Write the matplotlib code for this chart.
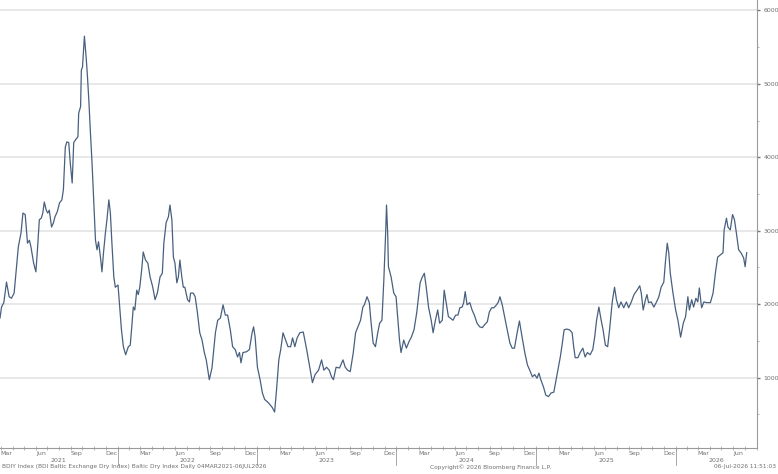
import pandas as pd
import matplotlib
matplotlib.use("Agg")
import matplotlib.pyplot as plt
import matplotlib.dates as mdates
from matplotlib.ticker import MultipleLocator
import matplotlib.transforms as mtransforms

# Baltic Dry Index (roughly weekly points)
dates_2021 = ["2021-02-27", "2021-03-03", "2021-03-09", "2021-03-16", "2021-03-23", "2021-03-29",
              "2021-04-05", "2021-04-12", "2021-04-16", "2021-04-23", "2021-04-28",
              "2021-05-04", "2021-05-10", "2021-05-15", "2021-05-19", "2021-05-26",
              "2021-06-01", "2021-06-05", "2021-06-10", "2021-06-15", "2021-06-19", "2021-06-23", "2021-06-28",
              "2021-07-02", "2021-07-06", "2021-07-12", "2021-07-17", "2021-07-21", "2021-07-27",
              "2021-08-02", "2021-08-08", "2021-08-12", "2021-08-17", "2021-08-21", "2021-08-26", "2021-08-30",
              "2021-09-04", "2021-09-08", "2021-09-13", "2021-09-19", "2021-09-21", "2021-09-26", "2021-09-28",
              "2021-10-01", "2021-10-06", "2021-10-11", "2021-10-14", "2021-10-18", "2021-10-21", "2021-10-26", "2021-10-30",
              "2021-11-04", "2021-11-08", "2021-11-12", "2021-11-17", "2021-11-21", "2021-11-25", "2021-11-30",
              "2021-12-04", "2021-12-09", "2021-12-13", "2021-12-17", "2021-12-22", "2021-12-26"]
values_2021 = [1810, 1960, 2020, 2300, 2100, 2080,
               2150, 2560, 2780, 2970, 3240,
               3220, 2830, 2870, 2780, 2560,
               2440, 2740, 3150, 3170, 3240, 3390, 3280,
               3240, 3280, 3050, 3110, 3190, 3260,
               3380, 3420, 3560, 4140, 4210, 4200, 3920,
               3650, 4200, 4240, 4280, 4600, 4690, 5190,
               5230, 5650, 5330, 5100, 4740, 4410, 3920, 3460,
               2870, 2740, 2850, 2640, 2440, 2700, 2970,
               3150, 3420, 3240, 2830, 2370, 2230]

dates_2022 = ["2022-01-02", "2022-01-07", "2022-01-11", "2022-01-16", "2022-01-22", "2022-01-29",
              "2022-02-03", "2022-02-07", "2022-02-11", "2022-02-15", "2022-02-20", "2022-02-24", "2022-02-28",
              "2022-03-05", "2022-03-09", "2022-03-15", "2022-03-21", "2022-03-27",
              "2022-04-03", "2022-04-09", "2022-04-15", "2022-04-22", "2022-04-28",
              "2022-05-02", "2022-05-08", "2022-05-14", "2022-05-18", "2022-05-23", "2022-05-27", "2022-05-31",
              "2022-06-05", "2022-06-09", "2022-06-13", "2022-06-18", "2022-06-22", "2022-06-26",
              "2022-07-03", "2022-07-08", "2022-07-11", "2022-07-18", "2022-07-23", "2022-07-29",
              "2022-08-04", "2022-08-10", "2022-08-16", "2022-08-21", "2022-08-25", "2022-08-29",
              "2022-09-05", "2022-09-09", "2022-09-14", "2022-09-20", "2022-09-27",
              "2022-10-04", "2022-10-10", "2022-10-16", "2022-10-23", "2022-10-29",
              "2022-11-05", "2022-11-11", "2022-11-16", "2022-11-20", "2022-11-25",
              "2022-12-04", "2022-12-12", "2022-12-19", "2022-12-23", "2022-12-27"]
values_2022 = [2260, 1920, 1650, 1420, 1310, 1420,
               1440, 1690, 1960, 1920, 2190, 2130, 2230,
               2470, 2710, 2600, 2560, 2370,
               2230, 2060, 2150, 2370, 2420,
               2830, 3110, 3190, 3350, 3150, 2640, 2560,
               2290, 2370, 2600, 2370, 2230, 2230,
               2060, 2030, 2150, 2150, 2100, 1880,
               1610, 1510, 1340, 1240, 1100, 970,
               1130, 1340, 1610, 1780, 1810,
               1990, 1850, 1850, 1650, 1420,
               1380, 1280, 1340, 1200, 1340,
               1350, 1380, 1610, 1690, 1550]

dates_2023 = ["2023-01-02", "2023-01-09", "2023-01-15", "2023-01-21", "2023-01-28",
              "2023-02-04", "2023-02-10", "2023-02-16", "2023-02-21", "2023-02-27",
              "2023-03-04", "2023-03-10", "2023-03-17", "2023-03-23", "2023-03-30",
              "2023-04-04", "2023-04-10", "2023-04-16", "2023-04-23",
              "2023-05-02", "2023-05-11", "2023-05-19", "2023-05-26",
              "2023-06-02", "2023-06-11", "2023-06-19", "2023-06-25",
              "2023-07-02", "2023-07-09", "2023-07-15", "2023-07-20", "2023-07-27",
              "2023-08-05", "2023-08-14", "2023-08-20", "2023-08-26",
              "2023-09-02", "2023-09-10", "2023-09-16", "2023-09-22", "2023-09-29",
              "2023-10-05", "2023-10-09", "2023-10-16", "2023-10-22", "2023-10-26",
              "2023-11-01", "2023-11-07", "2023-11-13", "2023-11-18", "2023-11-24", "2023-11-29",
              "2023-12-04", "2023-12-06", "2023-12-09", "2023-12-11", "2023-12-18", "2023-12-25", "2023-12-31"]
values_2023 = [1140, 970, 790, 700, 670,
               630, 590, 530, 830, 1240,
               1380, 1610, 1510, 1420, 1420,
               1540, 1420, 1540, 1610,
               1620, 1380, 1140, 930,
               1040, 1100, 1240, 1100,
               1140, 1100, 1010, 970, 1140,
               1130, 1240, 1140, 1100,
               1080, 1340, 1610, 1690, 1780,
               1960, 1990, 2100, 2020, 1780,
               1470, 1420, 1610, 1740, 1780, 2330,
               3010, 3350, 2970, 2510, 2370, 2150, 2100]

dates_2024 = ["2024-01-04", "2024-01-09", "2024-01-13", "2024-01-20", "2024-01-27",
              "2024-02-03", "2024-02-09", "2024-02-16", "2024-02-23", "2024-02-29",
              "2024-03-03", "2024-03-08", "2024-03-14", "2024-03-19", "2024-03-25",
              "2024-04-01", "2024-04-06", "2024-04-12", "2024-04-18", "2024-04-23", "2024-04-30",
              "2024-05-05", "2024-05-12", "2024-05-16", "2024-05-21", "2024-05-28",
              "2024-06-04", "2024-06-10", "2024-06-15", "2024-06-21", "2024-06-25", "2024-06-29",
              "2024-07-04", "2024-07-11", "2024-07-17", "2024-07-23", "2024-07-30",
              "2024-08-06", "2024-08-13", "2024-08-19", "2024-08-26", "2024-08-31",
              "2024-09-06", "2024-09-12", "2024-09-19", "2024-09-24", "2024-09-28",
              "2024-10-04", "2024-10-10", "2024-10-17", "2024-10-24", "2024-10-30",
              "2024-11-05", "2024-11-12", "2024-11-18", "2024-11-25",
              "2024-12-02", "2024-12-09", "2024-12-15", "2024-12-22", "2024-12-28"]
values_2024 = [1830, 1510, 1340, 1510, 1400,
               1490, 1550, 1650, 1880, 2150,
               2290, 2360, 2420, 2230, 1960,
               1780, 1610, 1780, 1920, 1740, 1780,
               2190, 1960, 1830, 1810, 1780,
               1850, 1850, 1950, 1960, 2020, 2170,
               1990, 2020, 1920, 1850, 1740,
               1690, 1680, 1720, 1760, 1890,
               1950, 1950, 1990, 2030, 2100,
               1990, 1830, 1650, 1470, 1400,
               1400, 1610, 1770, 1550,
               1340, 1170, 1100, 1010, 1040]

dates_2025 = ["2025-01-03", "2025-01-08", "2025-01-13", "2025-01-20", "2025-01-26",
              "2025-02-02", "2025-02-09", "2025-02-16", "2025-02-22", "2025-02-28",
              "2025-03-05", "2025-03-09", "2025-03-15", "2025-03-22", "2025-03-29",
              "2025-04-05", "2025-04-09", "2025-04-13", "2025-04-20", "2025-04-26",
              "2025-05-03", "2025-05-09", "2025-05-15", "2025-05-22", "2025-05-29",
              "2025-06-03", "2025-06-08", "2025-06-14", "2025-06-20", "2025-06-25",
              "2025-07-01", "2025-07-07", "2025-07-12", "2025-07-19", "2025-07-25", "2025-07-30",
              "2025-08-05", "2025-08-11", "2025-08-18", "2025-08-25", "2025-08-31",
              "2025-09-07", "2025-09-14", "2025-09-22", "2025-09-29",
              "2025-10-03", "2025-10-08", "2025-10-14", "2025-10-18", "2025-10-22", "2025-10-29",
              "2025-11-05", "2025-11-12", "2025-11-18", "2025-11-24",
              "2025-12-01", "2025-12-05", "2025-12-10", "2025-12-14", "2025-12-18", "2025-12-25"]
values_2025 = [990, 1060, 970, 870, 760,
               740, 790, 800, 970, 1140,
               1280, 1420, 1650, 1660, 1650,
               1610, 1420, 1270, 1270, 1340,
               1400, 1280, 1340, 1310, 1380,
               1550, 1780, 1960, 1780, 1650,
               1440, 1420, 1650, 2030, 2230, 2060,
               1950, 2030, 1950, 2030, 1950,
               2030, 2130, 2190, 2250,
               2150, 1920, 2060, 2130, 2020, 2030,
               1960, 2030, 2100, 2230,
               2300, 2560, 2830, 2700, 2420, 2150]

dates_2026 = ["2026-01-01", "2026-01-07", "2026-01-14", "2026-01-21", "2026-01-27",
              "2026-02-02", "2026-02-06", "2026-02-12", "2026-02-17", "2026-02-23", "2026-02-28",
              "2026-03-04", "2026-03-10", "2026-03-16", "2026-03-23",
              "2026-04-02", "2026-04-09", "2026-04-15", "2026-04-21", "2026-04-28",
              "2026-05-05", "2026-05-08", "2026-05-14", "2026-05-18", "2026-05-24", "2026-05-30",
              "2026-06-04", "2026-06-09", "2026-06-15", "2026-06-21", "2026-06-28",
              "2026-07-02", "2026-07-06"]
values_2026 = [1920, 1780, 1550, 1740, 1830,
               2100, 1920, 2060, 1960, 2080, 2030,
               2220, 1950, 2030, 2020,
               2020, 2150, 2420, 2640, 2670,
               2700, 3010, 3170, 3050, 3010, 3220,
               3150, 2970, 2740, 2700, 2630,
               2510, 2700]

y_ticks = [1000, 2000, 3000, 4000, 5000, 6000]
years = [2021, 2022, 2023, 2024, 2025, 2026]

footer_left = "BDIY Index (BDI Baltic Exchange Dry Index) Baltic Dry Index Daily 04MAR2021-06JUL2026"
footer_mid = "Copyright\u00a9 2026 Bloomberg Finance L.P."
footer_right = "06-Jul-2026 11:51:03"

all_dates = pd.to_datetime(dates_2021 + dates_2022 + dates_2023 + dates_2024 + dates_2025 + dates_2026)
all_values = values_2021 + values_2022 + values_2023 + values_2024 + values_2025 + values_2026
bdi = pd.Series(all_values, index=all_dates)

x_start = pd.Timestamp("2021-02-27")
x_end = pd.Timestamp("2026-08-02")

plt.rcParams['font.family'] = 'DejaVu Sans'
fig = plt.figure(figsize=(7.78, 4.74), dpi=100)
ax = fig.add_axes([0.0, 0.0549, 0.973, 0.9451])

ax.plot(bdi.index, bdi.values, color='#48607f', lw=0.9)

ax.set_xlim(x_start, x_end)
ax.set_ylim(40, 6143)

# right-hand value axis, Bloomberg style
ax.yaxis.tick_right()
ax.set_yticks(y_ticks)
ax.yaxis.set_minor_locator(MultipleLocator(500))
ax.tick_params(axis='y', which='major', labelsize=4.5, labelcolor='#707070',
               length=2.5, width=1.0, color='#777777', pad=2)
ax.tick_params(axis='y', which='minor', length=1.5, width=0.5, color='#999999')
ax.grid(axis='y', which='major', color='#e4e4e4', lw=1.2)
ax.set_axisbelow(True)

for side in ['left', 'top']:
    ax.spines[side].set_visible(False)
for side in ['right', 'bottom']:
    ax.spines[side].set_color('#9a9a9a')
    ax.spines[side].set_linewidth(0.8)

# month ticks across the axis line, labels for Mar/Jun/Sep/Dec at mid-month
ax.xaxis.set_minor_locator(mdates.MonthLocator())
ax.xaxis.set_major_locator(mdates.MonthLocator(bymonth=[3, 6, 9, 12], bymonthday=15))
ax.xaxis.set_major_formatter(mdates.DateFormatter('%b'))
ax.tick_params(axis='x', which='minor', direction='inout', length=3, width=0.5, color='#999999')
ax.tick_params(axis='x', which='major', length=0, labelsize=4.5, labelcolor='#707070', pad=2)

# year labels centred on the visible part of each year, with separators
trans = mtransforms.blended_transform_factory(ax.transData, ax.transAxes)
for yr in years:
    lo = max(pd.Timestamp(f"{yr}-01-01"), x_start)
    hi = min(pd.Timestamp(f"{yr + 1}-01-01"), x_end)
    mid = lo + (hi - lo) / 2
    ax.text(mid, -0.029, str(yr), transform=trans, ha='center', va='center',
            fontsize=4.5, color='#707070')
    if yr > years[0]:
        ax.plot([pd.Timestamp(f"{yr}-01-01")] * 2, [0, -0.038], transform=trans,
                color='#999999', lw=0.6, clip_on=False)

fig.text(0.002, 0.015, footer_left, fontsize=4.2, color='#707070', va='center', ha='left')
fig.text(0.553, 0.015, footer_mid, fontsize=4.2, color='#707070', va='center', ha='left')
fig.text(0.998, 0.015, footer_right, fontsize=4.2, color='#707070', va='center', ha='right')

fig.savefig('out.png', dpi=100, facecolor='white')
